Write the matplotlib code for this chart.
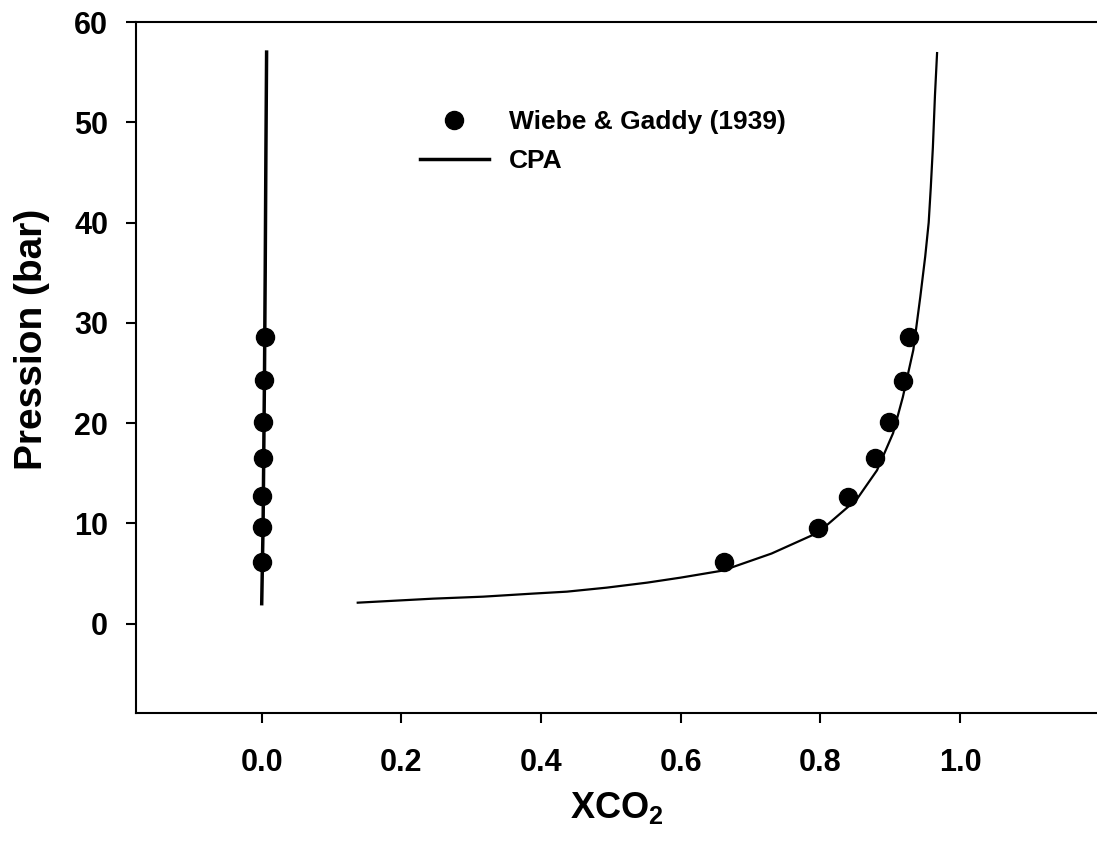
import matplotlib
matplotlib.use("Agg")
import matplotlib.pyplot as plt

plt.rcParams["font.family"] = ["Liberation Sans", "DejaVu Sans"]
plt.rcParams["font.weight"] = "bold"
plt.rcParams["mathtext.fontset"] = "custom"
plt.rcParams["mathtext.bf"] = "Liberation Sans:bold"
plt.rcParams["mathtext.rm"] = "Liberation Sans:bold"
plt.rcParams["mathtext.default"] = "bf"

# Wiebe & Gaddy (1939) data
exp_x_left = [0.0, 0.0, 0.001, 0.002, 0.002, 0.003, 0.004]
exp_y_left = [6.2, 9.6, 12.7, 16.5, 20.1, 24.3, 28.6]
exp_x_right = [0.662, 0.797, 0.840, 0.878, 0.898, 0.918, 0.927]
exp_y_right = [6.2, 9.5, 12.6, 16.5, 20.1, 24.2, 28.6]

# CPA model curves
cpa_x_left = [0.0, 0.002, 0.004, 0.005, 0.006, 0.007]
cpa_y_left = [2.0, 10.0, 25.0, 35.0, 47.0, 57.0]
cpa_x_right = [0.1375, 0.245, 0.317, 0.387, 0.437, 0.494, 0.552, 0.60, 0.660,
               0.73, 0.797, 0.852, 0.881, 0.904, 0.918, 0.933, 0.943, 0.950,
               0.955, 0.958, 0.961, 0.964, 0.967]
cpa_y_right = [2.1, 2.5, 2.7, 3.0, 3.2, 3.6, 4.1, 4.6, 5.3,
               7.0, 9.1, 12.4, 15.3, 19.0, 22.6, 27.3, 32.6, 36.6,
               40.0, 43.5, 47.5, 52.7, 56.9]

fig = plt.figure(figsize=(10.97, 8.48), dpi=100)
ax = fig.add_axes([136 / 1097, 1 - 713 / 848, 961 / 1097, 691 / 848])

ax.plot(exp_x_left, exp_y_left, "o", color="black", markersize=13,
        label="Wiebe & Gaddy (1939)")
ax.plot(exp_x_right, exp_y_right, "o", color="black", markersize=13)
ax.plot(cpa_x_left, cpa_y_left, "-", color="black", linewidth=2.5, label="CPA")
ax.plot(cpa_x_right, cpa_y_right, "-", color="black", linewidth=1.6)

ax.set_xlim(-0.18, 1.196)
ax.set_ylim(-8.9, 60)
ax.set_xticks([0.0, 0.2, 0.4, 0.6, 0.8, 1.0])
ax.set_xticklabels(["0.0", "0.2", "0.4", "0.6", "0.8", "1.0"])
ax.set_yticks([0, 10, 20, 30, 40, 50, 60])

for s in ax.spines.values():
    s.set_linewidth(1.5)
ax.spines["right"].set_visible(False)
ax.tick_params(axis="x", direction="out", length=7, width=1.5, pad=18, labelsize=22)
ax.tick_params(axis="y", direction="out", length=7, width=1.5, pad=13, labelsize=22)

ax.set_xlabel("XCO$_2$", fontsize=26, fontweight="bold")
ax.set_ylabel("Pression (bar)", fontsize=28, fontweight="bold")
ax.xaxis.set_label_coords(0.5, -0.111)
ax.yaxis.set_label_coords(-0.0895, 0.54)

ax.legend(loc="upper left", bbox_to_anchor=(0.2955, 0.872), frameon=False,
          handlelength=2.6, handletextpad=0.76, labelspacing=0.55,
          borderpad=0, borderaxespad=0, numpoints=1,
          prop={"weight": "bold", "size": 19})

plt.savefig("out.png", dpi=100)
plt.close()
